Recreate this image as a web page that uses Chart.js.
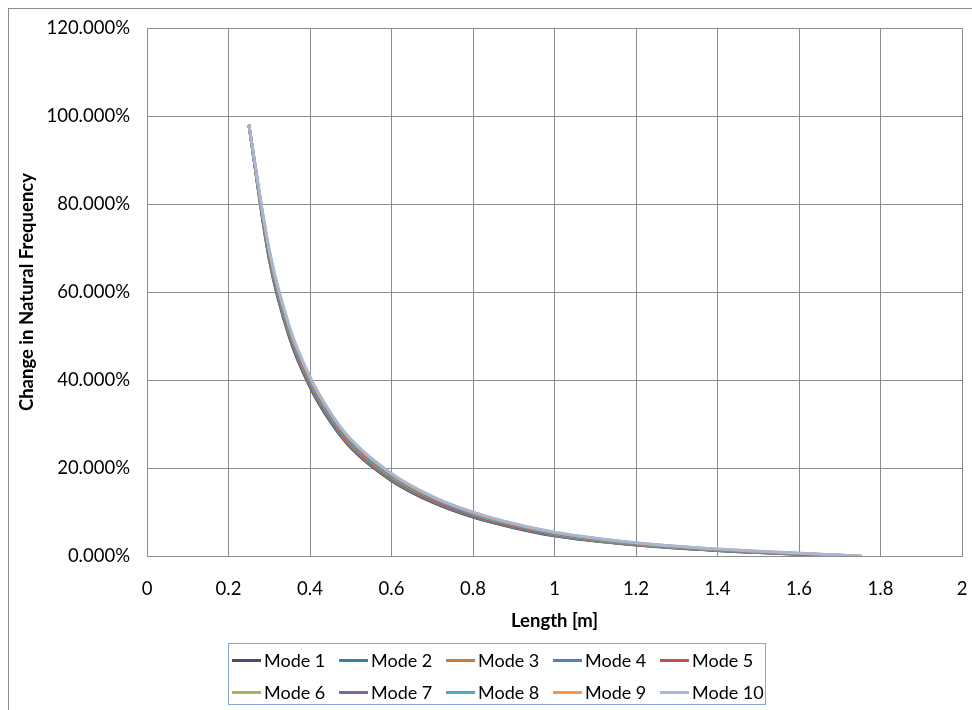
<!DOCTYPE html>
<html>
<head>
<meta charset="utf-8">
<title>Change in Natural Frequency</title>
<script src="https://cdn.jsdelivr.net/npm/chart.js@4/dist/chart.umd.min.js"></script>
<style>
  body { margin: 0; background: #fff; }
  #wrap { position: relative; width: 972px; height: 710px; overflow: hidden; font-family: Lato, sans-serif; }
  #frame { position: absolute; left: 8px; top: 8px; width: 1000px; height: 1000px; border: 1px solid #8c8c8c; }
  #chart1 { position: absolute; left: 0; top: 0; }
  #legend {
    position: absolute; left: 228px; top: 643px; width: 538px; height: 62px;
    border: 1px solid #8aa6d6; box-sizing: border-box;
    display: grid; grid-template-columns: repeat(5, 107px); grid-auto-rows: 32px;
    padding: 0 0 0 3px;
  }
  #legend .item { display: flex; align-items: center; font-size: 18px; color: #000; white-space: nowrap; }
  #legend .swatch { display: inline-block; width: 29px; height: 3px; margin-right: 3px; }
</style>
</head>
<body>
<div id="wrap">
  <div id="frame"></div>
  <canvas id="chart1" width="972" height="710"></canvas>
  <div id="legend"></div>
</div>
<script>
// lengths [m] shared by every mode, last point of each mode sits at its own end length
var lengths = [0.25, 0.3, 0.35, 0.4, 0.45, 0.5, 0.6, 0.7, 0.8, 0.9, 1.0, 1.2, 1.4, 1.6]
var endLengths = [1.72, 1.724, 1.728, 1.731, 1.735, 1.739, 1.743, 1.747, 1.751, 1.755]

// change in natural frequency [%]
var mode1 = [98, 67.3, 49.5, 38.4, 30.5, 24.6, 17.1, 12.2, 8.8, 6.4, 4.55, 2.45, 1.20, 0.35, 0]
var mode2 = [98, 67.6, 49.8, 38.7, 30.7, 24.8, 17.2, 12.4, 8.9, 6.5, 4.65, 2.52, 1.24, 0.38, 0]
var mode3 = [98, 67.8, 50.1, 38.9, 31.0, 25.0, 17.4, 12.5, 9.1, 6.6, 4.75, 2.58, 1.29, 0.42, 0]
var mode4 = [98, 68.1, 50.4, 39.2, 31.2, 25.3, 17.6, 12.7, 9.2, 6.7, 4.85, 2.65, 1.33, 0.45, 0]
var mode5 = [98, 68.4, 50.7, 39.5, 31.5, 25.5, 17.8, 12.8, 9.3, 6.8, 4.95, 2.72, 1.38, 0.48, 0]
var mode6 = [98, 68.6, 50.9, 39.7, 31.7, 25.7, 18.0, 13.0, 9.5, 7.0, 5.05, 2.78, 1.42, 0.52, 0]
var mode7 = [98, 68.9, 51.2, 40.0, 32.0, 25.9, 18.2, 13.1, 9.6, 7.1, 5.15, 2.85, 1.47, 0.55, 0]
var mode8 = [98, 69.2, 51.5, 40.3, 32.2, 26.2, 18.4, 13.3, 9.7, 7.2, 5.25, 2.92, 1.51, 0.58, 0]
var mode9 = [98, 69.4, 51.8, 40.5, 32.5, 26.4, 18.6, 13.4, 9.9, 7.3, 5.35, 2.98, 1.56, 0.62, 0]
var mode10 = [98, 69.7, 52.1, 40.8, 32.7, 26.6, 18.8, 13.6, 10.0, 7.4, 5.45, 3.05, 1.60, 0.65, 0]

var modeNames = ['Mode 1', 'Mode 2', 'Mode 3', 'Mode 4', 'Mode 5', 'Mode 6', 'Mode 7', 'Mode 8', 'Mode 9', 'Mode 10']
var modeColors = ['#574375', '#31849b', '#cc7a35', '#4f81bd', '#c0504d', '#9bbb59', '#8064a2', '#4bacc6', '#f79646', '#a5b8d9']
var modes = [mode1, mode2, mode3, mode4, mode5, mode6, mode7, mode8, mode9, mode10]

var yTicks = [0, 20, 40, 60, 80, 100, 120]
var xTickStep = 0.2

var gridColor = '#8c8c8c'
var fontFamily = 'Lato, sans-serif'

var datasets = modes.map(function (values, i) {
  var xs = lengths.concat([endLengths[i]])
  return {
    label: modeNames[i],
    data: values.map(function (v, j) { return { x: xs[j], y: v } }),
    borderColor: modeColors[i],
    backgroundColor: modeColors[i],
    borderWidth: 2.8,
    pointRadius: 0,
    fill: false,
    cubicInterpolationMode: 'monotone',
    // later modes drawn over earlier ones
    order: modes.length - 1 - i
  }
})

var ctx = document.getElementById('chart1').getContext('2d')
var chart1 = new Chart(ctx, {
  type: 'line',
  data: { datasets: datasets },
  options: {
    responsive: false,
    animation: false,
    layout: { padding: { left: 0, top: 27, right: 10, bottom: 74 } },
    plugins: {
      legend: { display: false },
      tooltip: { enabled: false }
    },
    scales: {
      x: {
        type: 'linear',
        min: 0,
        max: 2,
        afterFit: function (scale) {
          scale.height = 80
          // tick padding should not push the plot edges in
          scale.paddingLeft = 0
          scale.paddingRight = 0
        },
        grid: { color: gridColor, lineWidth: 1, drawTicks: false },
        border: { color: gridColor },
        ticks: {
          stepSize: xTickStep,
          padding: 22,
          color: '#000',
          font: { family: fontFamily, size: 18.5 },
          callback: function (v) { return String(Math.round(v * 10) / 10) }
        },
        title: {
          display: true,
          text: 'Length [m]',
          color: '#000',
          font: { family: fontFamily, size: 18.5, weight: 'bold' },
          padding: { top: 4, bottom: 4 }
        }
      },
      y: {
        min: yTicks[0],
        max: yTicks[yTicks.length - 1],
        afterFit: function (scale) { scale.width = 147 },
        afterBuildTicks: function (scale) {
          scale.ticks = yTicks.map(function (v) { return { value: v } })
        },
        grid: { color: gridColor, lineWidth: 1, drawTicks: false },
        border: { color: gridColor },
        ticks: {
          padding: 17,
          color: '#000',
          font: { family: fontFamily, size: 18.5 },
          callback: function (v) { return v.toFixed(3) + '%' }
        },
        title: {
          display: true,
          text: 'Change in Natural Frequency',
          color: '#000',
          font: { family: fontFamily, size: 18.5, weight: 'bold' },
          padding: { top: 16, bottom: 4 }
        }
      }
    }
  }
})

// legend box under the axis title
var legendEl = document.getElementById('legend')
chart1.data.datasets.forEach(function (ds) {
  var item = document.createElement('div')
  item.className = 'item'
  var sw = document.createElement('span')
  sw.className = 'swatch'
  sw.style.background = ds.borderColor
  item.appendChild(sw)
  item.appendChild(document.createTextNode(ds.label))
  legendEl.appendChild(item)
})
</script>
</body>
</html>
